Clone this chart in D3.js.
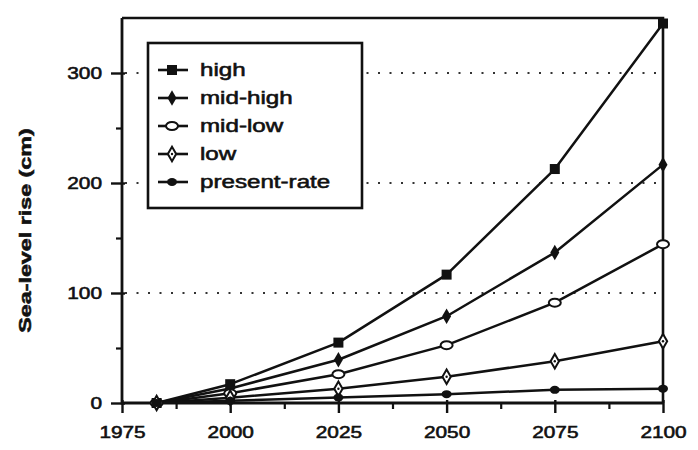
<!DOCTYPE html>
<html>
<head>
<meta charset="utf-8">
<script src="https://cdn.jsdelivr.net/npm/d3@7"></script>
<style>
  html, body { margin: 0; padding: 0; background: #fff; }
  svg { display: block; }
  text { font-family: "Liberation Sans", Arial, sans-serif; fill: #111; }
</style>
</head>
<body>
<svg id="chart" width="698" height="450"></svg>
<script>
// Projected sea-level rise scenarios (cm)
const years = [1983, 2000, 2025, 2050, 2075, 2100];
const seriesNames = ["high", "mid-high", "mid-low", "low", "present-rate"];
const high = [0, 17.1, 54.9, 116.7, 212.7, 345.0];
const midHigh = [0, 13.2, 39.3, 78.9, 136.8, 216.7];
const midLow = [0, 8.8, 26.2, 52.6, 91.2, 144.4];
const low = [0, 4.8, 13.0, 23.9, 38.0, 56.2];
const presentRate = [0, 2, 5, 8, 12, 13];
const xTickValues = [1975, 2000, 2025, 2050, 2075, 2100];
const xMinorTicks = [1987.5, 2012.5, 2037.5, 2062.5, 2087.5];
const yTickValues = [0, 100, 200, 300];
const yMinorTicks = [50, 150, 250];
const gridValues = [100, 200, 300];
const yTitle = "Sea-level rise (cm)";

const seriesValues = [high, midHigh, midLow, low, presentRate];
const markerTypes = ["square", "diamondFilled", "circleOpen", "diamondOpen", "circleFilled"];

const svg = d3.select("#chart");
const ink = "#111";

const x = d3.scaleLinear().domain([1975, 2100]).range([122, 663]);
const y = d3.scaleLinear().domain([0, 350]).range([403, 18]);

// horizontal stretch helper for the wide, heavy lettering
function stretch(sel, f) {
  sel.each(function () {
    const w = this.getComputedTextLength();
    d3.select(this).attr("textLength", w * f).attr("lengthAdjust", "spacingAndGlyphs")
      .attr("stroke", ink).attr("stroke-width", 0.55);
  });
}

// dotted reference lines
svg.append("g").selectAll("line").data(gridValues).join("line")
  .attr("x1", x(1975) + 3).attr("x2", x(2100))
  .attr("y1", d => y(d)).attr("y2", d => y(d))
  .attr("stroke", "#333").attr("stroke-width", 2)
  .attr("stroke-dasharray", "2,9.5");

// frame: top and right edges
svg.append("path")
  .attr("d", `M${x(1975)},${y(350)}H${x(2100)}V${y(0)}`)
  .attr("fill", "none").attr("stroke", ink).attr("stroke-width", 2.6);

// y axis
const yAxis = svg.append("g").attr("transform", `translate(${x(1975)},0)`)
  .call(d3.axisLeft(y).tickValues(yTickValues).tickSize(11).tickPadding(9).tickFormat(d3.format("d")));
yAxis.select(".domain").remove();
yAxis.selectAll(".tick line").attr("stroke", ink).attr("stroke-width", 2.4).attr("x2", -11).attr("x1", 3);
yAxis.selectAll(".tick text").attr("font-size", 16).attr("font-family", null).attr("fill", ink)
  .call(stretch, 1.3);
const yMinor = svg.append("g").attr("transform", `translate(${x(1975)},0)`)
  .call(d3.axisLeft(y).tickValues(yMinorTicks).tickSize(6).tickFormat(""));
yMinor.select(".domain").remove();
yMinor.selectAll(".tick line").attr("stroke", ink).attr("stroke-width", 2.2);

// x axis
const xAxis = svg.append("g").attr("transform", `translate(0,${y(0)})`)
  .call(d3.axisBottom(x).tickValues(xTickValues).tickSize(10).tickPadding(14).tickFormat(d3.format("d")));
xAxis.select(".domain").remove();
xAxis.selectAll(".tick line").attr("stroke", ink).attr("stroke-width", 2.4).attr("y1", -3);
xAxis.selectAll(".tick text").attr("font-size", 16).attr("font-family", null).attr("fill", ink)
  .call(stretch, 1.3);
const xMinor = svg.append("g").attr("transform", `translate(0,${y(0)})`)
  .call(d3.axisBottom(x).tickValues(xMinorTicks).tickSize(6).tickFormat(""));
xMinor.select(".domain").remove();
xMinor.selectAll(".tick line").attr("stroke", ink).attr("stroke-width", 2.2);

// axis lines
svg.append("path")
  .attr("d", `M${x(1975)},${y(350)}V${y(0)}H${x(2100)}`)
  .attr("fill", "none").attr("stroke", ink).attr("stroke-width", 2.8);

// y title
svg.append("text")
  .attr("transform", `translate(31,${(y(0) + y(350)) / 2 + 20}) rotate(-90)`)
  .attr("text-anchor", "middle")
  .attr("font-size", 17).attr("font-weight", "bold")
  .text(yTitle)
  .call(stretch, 1.37);

// marker drawing
function drawMarker(g, type) {
  switch (type) {
    case "square":
      g.append("rect").attr("x", -5).attr("y", -5).attr("width", 10).attr("height", 10)
        .attr("fill", ink);
      break;
    case "diamondFilled":
      g.append("path").attr("d", d3.symbol(d3.symbolDiamond, 70)()).attr("fill", ink);
      break;
    case "circleOpen":
      g.append("ellipse").attr("rx", 6).attr("ry", 4).attr("fill", "#fff")
        .attr("stroke", ink).attr("stroke-width", 2);
      break;
    case "diamondOpen":
      g.append("path").attr("d", d3.symbol(d3.symbolDiamond, 60)()).attr("fill", "#fff")
        .attr("stroke", ink).attr("stroke-width", 2);
      g.append("circle").attr("r", 1.2).attr("fill", ink);
      break;
    case "circleFilled":
      g.append("ellipse").attr("rx", 5).attr("ry", 4).attr("fill", ink);
      break;
  }
}

// series lines and markers
const line = d3.line().x((d, i) => x(years[i])).y(d => y(d));
const seriesG = svg.append("g");
seriesValues.forEach((vals, k) => {
  seriesG.append("path").datum(vals)
    .attr("d", line)
    .attr("fill", "none").attr("stroke", ink).attr("stroke-width", 2.5)
    .attr("stroke-linejoin", "round");
});
seriesValues.forEach((vals, k) => {
  vals.forEach((v, i) => {
    const g = seriesG.append("g").attr("transform", `translate(${x(years[i])},${y(v)})`);
    drawMarker(g, markerTypes[k]);
  });
});

// legend
const legend = svg.append("g");
legend.append("rect")
  .attr("x", 148).attr("y", 43).attr("width", 214).attr("height", 165)
  .attr("fill", "#fff").attr("stroke", ink).attr("stroke-width", 2.6);
seriesNames.forEach((name, k) => {
  const cy = 70 + k * 28;
  const item = legend.append("g").attr("transform", `translate(0,${cy})`);
  item.append("line").attr("x1", 158).attr("x2", 188).attr("y1", 0).attr("y2", 0)
    .attr("stroke", ink).attr("stroke-width", 2.6);
  const m = item.append("g").attr("transform", "translate(172,0)");
  drawMarker(m, markerTypes[k]);
  item.append("text").attr("x", 200).attr("y", 0).attr("dy", "0.35em")
    .attr("font-size", 17.5)
    .text(name)
    .call(stretch, 1.38);
});
</script>
</body>
</html>
